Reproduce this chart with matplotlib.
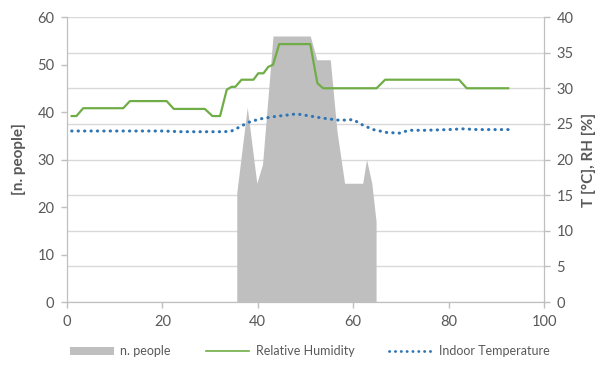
import matplotlib
matplotlib.use("Agg")
import matplotlib.pyplot as plt
from matplotlib.patches import Patch
from matplotlib.lines import Line2D

plt.rcParams['font.family'] = ['Lato', 'DejaVu Sans']

# n. people (left axis)
people_x = [35.6, 35.6, 37.8, 39.8, 41.0, 43.2, 51.0, 52.4, 55.2, 56.6, 58.2, 62.0, 62.8, 63.9, 64.8, 64.8]
people = [0, 23, 41, 25, 29, 56, 56, 51, 51, 36, 25, 25, 30, 25, 17, 0]

# relative humidity (right axis)
rh_x = [1, 2, 3.4, 11.8, 13.2, 20.9, 22.4, 28.9, 30.5, 32.1, 33.5, 34.5, 35.3, 36.6, 39.1,
        40.1, 41.2, 42.2, 43.2, 44.5, 51.0, 52.5, 53.7, 64.9, 66.7, 82.2, 83.8, 92.5]
rh = [26.1, 26.1, 27.2, 27.2, 28.2, 28.2, 27.1, 27.1, 26.1, 26.1, 29.8, 30.2, 30.2, 31.2, 31.2,
      32.1, 32.1, 33.0, 33.3, 36.2, 36.2, 30.7, 30.0, 30.0, 31.2, 31.2, 30.0, 30.0]

# indoor temperature (right axis)
t_x = [1, 10, 20, 24, 30, 33, 34.5, 36.3, 37.7, 38.4, 40.5, 43.2, 48.1, 51, 53.7, 57.2, 60,
       62.1, 64.2, 67, 69.8, 71.6, 75, 80, 83, 86, 92.5]
temp = [24.0, 24.0, 24.0, 23.9, 23.9, 23.9, 24.0, 24.6, 25.1, 25.3, 25.7, 26.0, 26.4, 26.1, 25.8,
        25.5, 25.6, 24.8, 24.2, 23.8, 23.7, 24.1, 24.1, 24.2, 24.3, 24.2, 24.2]

GRAY = '#BFBFBF'
GREEN = '#70AD47'
BLUE = '#2E75B6'
TXT = '#595959'
AXC = '#BFBFBF'

fig = plt.figure(figsize=(6.14, 3.65), dpi=100)
ax = fig.add_axes([0.109, 0.1726, 0.777, 0.7808])
ax2 = ax.twinx()

# gridlines follow right axis (every 5 -> 7.5 on left), drawn behind area
for v in range(0, 41, 5):
    ax.axhline(v * 1.5, color='#D9D9D9', lw=1, zorder=0)

ax.fill_between(people_x, people, 0, color=GRAY, lw=0, zorder=2)
ax2.plot(rh_x, rh, color=GREEN, lw=1.6, solid_joinstyle='round')
ax2.plot(t_x, temp, color=BLUE, lw=2.2, linestyle=(0, (0.1, 2.0)), dash_capstyle='round')

ax.set_xlim(0, 100)
ax.set_ylim(0, 60)
ax2.set_ylim(0, 40)
ax.set_xticks(range(0, 101, 20))
ax.set_yticks(range(0, 61, 10))
ax2.set_yticks(range(0, 41, 5))

for a in (ax, ax2):
    for s in a.spines.values():
        s.set_color(AXC)
    a.spines['top'].set_visible(False)
    a.tick_params(colors=AXC, labelcolor=TXT, labelsize=10.5, length=4, width=1, pad=5)

ax.set_ylabel('[n. people]', color=TXT, fontsize=11, fontweight='bold', labelpad=8)
ax2.set_ylabel('T [°C], RH [%]', color=TXT, fontsize=11, fontweight='bold', labelpad=6,
               rotation=90)

handles = [
    Patch(facecolor=GRAY, edgecolor='none'),
    Line2D([], [], color=GREEN, lw=1.2),
    Line2D([], [], color=BLUE, lw=2.0, linestyle=(0, (0.1, 2.0)), dash_capstyle='round'),
]
labels = ['n. people', 'Relative Humidity', 'Indoor Temperature']
leg = fig.legend(handles, labels, loc='lower center', bbox_to_anchor=(0.505, -0.01), ncol=3,
                 frameon=False, fontsize=9, handlelength=3.5, handleheight=0.5,
                 columnspacing=2.8, handletextpad=0.5)
for t in leg.get_texts():
    t.set_color(TXT)

fig.savefig('out.png', dpi=100)
